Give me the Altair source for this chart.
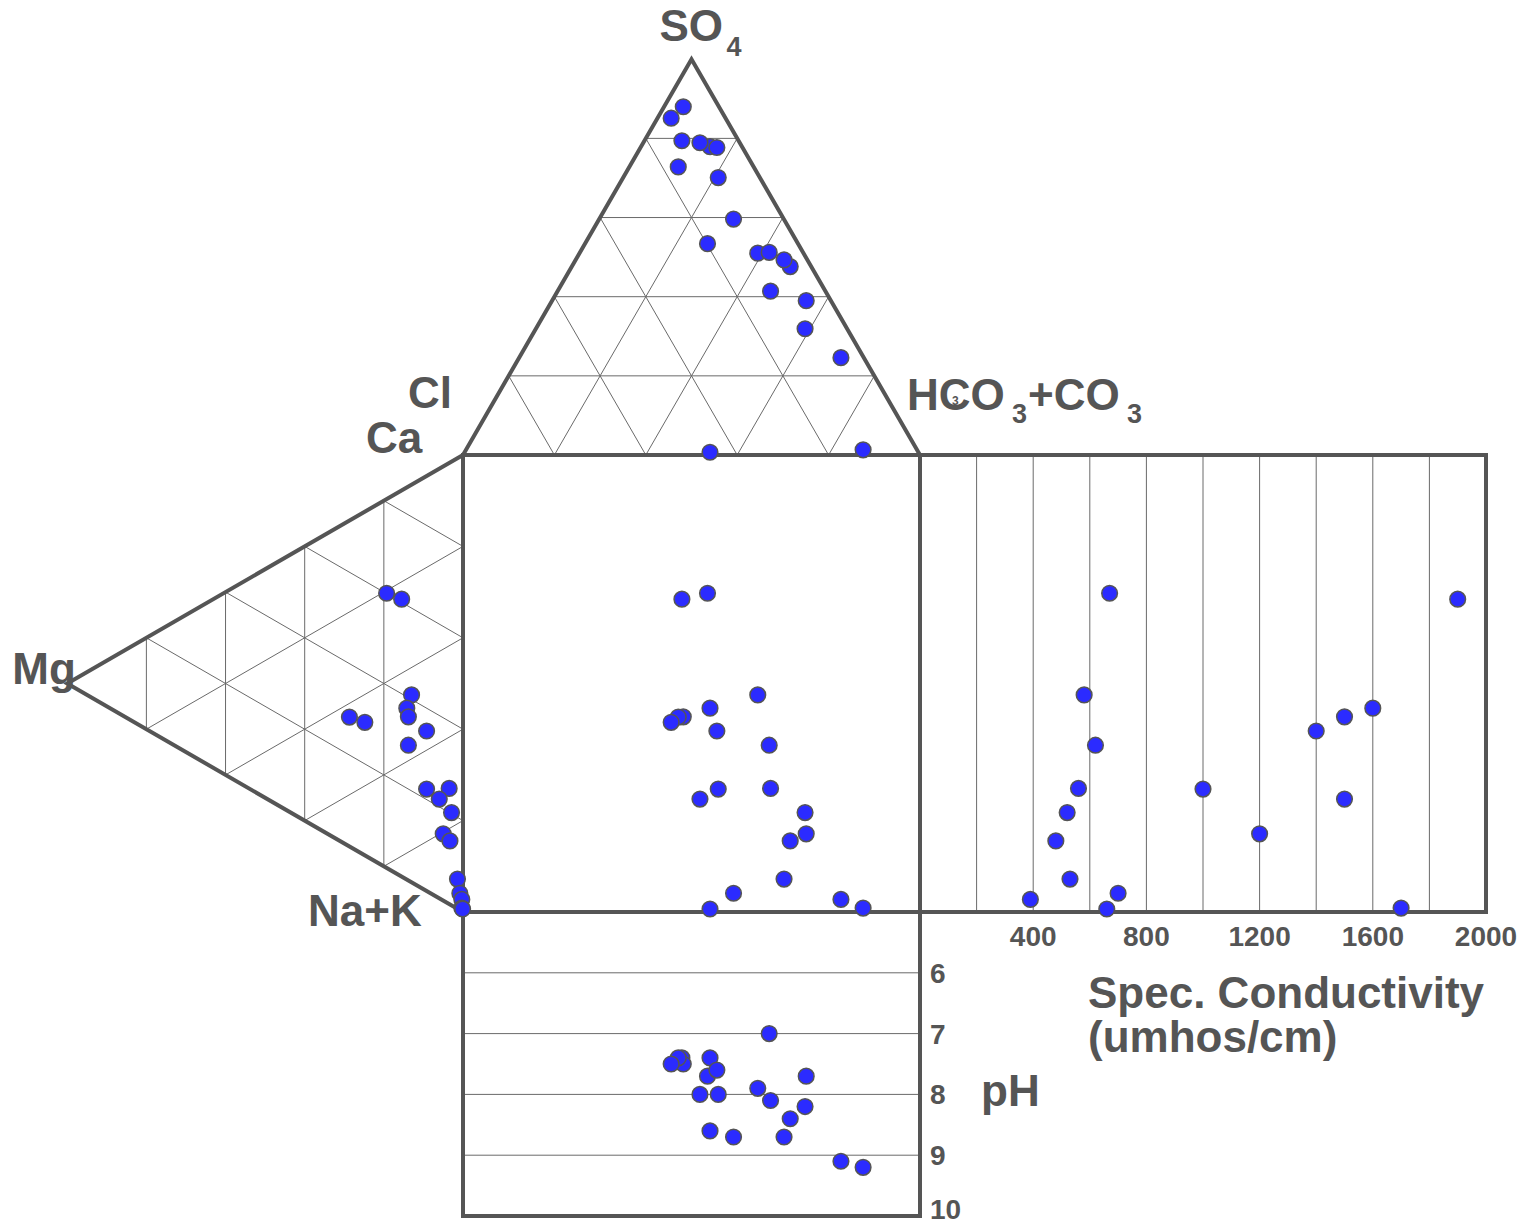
import math
import pandas as pd
import altair as alt

# ---------------- data (20 water samples) ----------------
so4  = [53.4, 79.4, 51.0, 77.9, 88.0, 72.8, 85.1, 77.7, 51.2, 70.1, 41.4, 78.9, 31.9, 39.0, 47.6, 49.3, 59.6, 24.6, 1.3, 0.7]
hco3 = [26.8, 8.2, 39.0, 15.1, 4.2, 10.7, 3.0, 16.7, 41.4, 20.8, 46.6, 12.4, 58.9, 55.6, 47.8, 45.6, 29.4, 70.4, 86.9, 53.7]
mg   = [19.3, 15.5, 13.0, 14.2, 13.8, 28.7, 24.8, 9.2, 13.8, 9.2, 3.5, 6.0, 2.9, 5.0, 3.3, 1.4, 0.8, 0.3, 0.3, 0.1]
nak  = [20.6, 23.8, 46.0, 48.3, 50.4, 43.0, 46.1, 55.8, 56.6, 68.5, 71.2, 72.3, 76.8, 80.4, 82.8, 92.1, 95.5, 97.1, 99.0, 99.3]
cond = [670, 1900, 580, 1600, 1500, None, None, 1400, 620, 1000, 560, 1500, 520, 1200, 480, 530, 700, 390, 1700, 660]
ph   = [7.7, 7.4, 7.9, 7.4, 7.5, 7.4, 7.5, 7.6, 7.0, 8.0, 8.1, 8.0, 8.2, 7.7, 8.4, 8.7, 8.7, 9.1, 9.2, 8.6]

cond_ticks = [400, 800, 1200, 1600, 2000]
cond_grid = [200, 400, 600, 800, 1000, 1200, 1400, 1600, 1800]
ph_ticks = [6, 7, 8, 9, 10]
tri_grid = [20, 40, 60, 80]

# ---------------- layout constants ----------------
W_PX, H_PX = 1526, 1225
X0_PX, Y0_PX = 463, 455        # top-left corner of the central square
S = 4.57                        # pixels per percent unit
SQ3 = math.sqrt(3) / 2
COND_SPAN = 566 / S             # width of conductivity panel in units
COND_MAX = 2000
PH_MIN, PH_MAX = 5, 10
PH_SPAN = 304 / S

TEXT = "#555555"
LINE = "#555555"
GRID = "#6a6a6a"
DOT = "#2b2bff"


def anion(s, h):
    return (h + s / 2, -s * SQ3)


def cation(m, n):
    return (-m * SQ3, n + m / 2)


def cond_u(c):
    return 100 + c * COND_SPAN / COND_MAX


def ph_w(p):
    return 100 + (p - PH_MIN) * PH_SPAN / (PH_MAX - PH_MIN)


def off(u, w, dxp, dyp):
    return (u + dxp / S, w + dyp / S)


# ---------------- points ----------------
rows = []
for i in range(len(so4)):
    au, aw = anion(so4[i], hco3[i])
    cu, cw = cation(mg[i], nak[i])
    rows.append(dict(u=au, w=aw))
    rows.append(dict(u=cu, w=cw))
    rows.append(dict(u=au, w=cw))
    if cond[i] is not None:
        rows.append(dict(u=cond_u(cond[i]), w=cw))
    rows.append(dict(u=au, w=ph_w(ph[i])))
pts = pd.DataFrame(rows)

# ---------------- grid segments ----------------
segs = []
for k in tri_grid:
    for a, b in [(anion(k, 0), anion(k, 100 - k)),
                 (anion(0, k), anion(100 - k, k)),
                 (anion(0, 100 - k), anion(100 - k, 0)),
                 (cation(k, 0), cation(k, 100 - k)),
                 (cation(0, k), cation(100 - k, k)),
                 (cation(0, 100 - k), cation(100 - k, 0))]:
        segs.append(dict(u=a[0], w=a[1], u2=b[0], w2=b[1]))
for c in cond_grid:
    segs.append(dict(u=cond_u(c), w=0, u2=cond_u(c), w2=100))
for p in ph_ticks[:-1]:
    segs.append(dict(u=0, w=ph_w(p), u2=100, w2=ph_w(p)))
grid = pd.DataFrame(segs)

# ---------------- outlines ----------------
shapes = {
    "anion": [anion(0, 0), anion(100, 0), anion(0, 100)],
    "cation": [cation(0, 0), cation(100, 0), cation(0, 100)],
    "square": [(0, 0), (100, 0), (100, 100), (0, 100), (0, 0)],
    "cond": [(100, 0), (cond_u(COND_MAX), 0), (cond_u(COND_MAX), 100), (100, 100)],
    "ph": [(0, 100), (0, ph_w(PH_MAX)), (100, ph_w(PH_MAX)), (100, 100)],
}
orow = []
for name, p in shapes.items():
    for j, (u, w) in enumerate(p):
        orow.append(dict(shape=name, i=j, u=u, w=w))
outl = pd.DataFrame(orow)

# ---------------- labels ----------------
apex = anion(100, 0)
labs = []
def lab(anchor, dxp, dyp, text, fs):
    u, w = off(anchor[0], anchor[1], dxp, dyp)
    labs.append(dict(u=u, w=w, text=text, fs=fs))

lab(apex, -32, -18, "SO", 44)
lab(apex, 35, -3, "4", 27)
lab((0, 0), -55, -47, "Cl", 44)
lab((0, 0), -97, -2, "Ca", 44)
lab(cation(100, 0), -55, 0, "Mg", 44)
lab((0, 100), -155, 14, "Na+K", 44)
lab((100, 0), -13, -45, "HCO", 44)
lab((100, 0), 32, -50, "3", 12)
lab((100, 0), 92, -32, "3", 27)
lab((100, 0), 108, -45, "+CO", 44)
lab((100, 0), 207, -32, "3", 27)
lab((100, 100), 168, 96, "Spec. Conductivity", 44)
lab((100, 100), 168, 140, "(umhos/cm)", 44)
lab((100, 100), 61, 194, "pH", 44)
for p in ph_ticks:
    lab((100, ph_w(p)), 10, 10 if p < PH_MAX else 3, str(p), 28)
labels = pd.DataFrame(labs)

ticks = pd.DataFrame([dict(u=cond_u(c), w=100 + 34 / S, text=str(c), fs=28) for c in cond_ticks])

# ---------------- chart ----------------
xs = alt.Scale(domain=[-X0_PX / S, (W_PX - X0_PX) / S], nice=False, zero=False)
ys = alt.Scale(domain=[-Y0_PX / S, (H_PX - Y0_PX) / S], nice=False, zero=False, reverse=True)
X = lambda f: alt.X(f, type="quantitative", scale=xs, axis=None)
Y = lambda f: alt.Y(f, type="quantitative", scale=ys, axis=None)

grid_layer = alt.Chart(grid).mark_rule(color=GRID, strokeWidth=1).encode(
    x=X("u"), y=Y("w"), x2="u2", y2="w2")

outline_layer = alt.Chart(outl).mark_line(
    color=LINE, strokeWidth=4, strokeJoin="miter", strokeCap="square").encode(
    x=X("u"), y=Y("w"), detail="shape:N", order="i:Q")

point_layer = alt.Chart(pts).mark_circle(
    size=245, color=DOT, stroke="#555555", strokeWidth=1.5, opacity=1).encode(
    x=X("u"), y=Y("w"))

text_layer = alt.Chart(labels).mark_text(
    align="left", baseline="alphabetic", font="Liberation Sans", fontWeight="bold", color=TEXT).encode(
    x=X("u"), y=Y("w"), text="text:N", size=alt.Size("fs:Q", scale=None, legend=None))

tick_layer = alt.Chart(ticks).mark_text(
    align="center", baseline="alphabetic", font="Liberation Sans", fontWeight="bold", color=TEXT).encode(
    x=X("u"), y=Y("w"), text="text:N", size=alt.Size("fs:Q", scale=None, legend=None))

chart = alt.layer(grid_layer, outline_layer, point_layer, text_layer, tick_layer).properties(
    width=W_PX, height=H_PX, padding=0, autosize=alt.AutoSizeParams(type="none"),
    background="white").configure_view(stroke=None)

chart.save("out.html", embed_options={"renderer": "svg", "actions": False})
